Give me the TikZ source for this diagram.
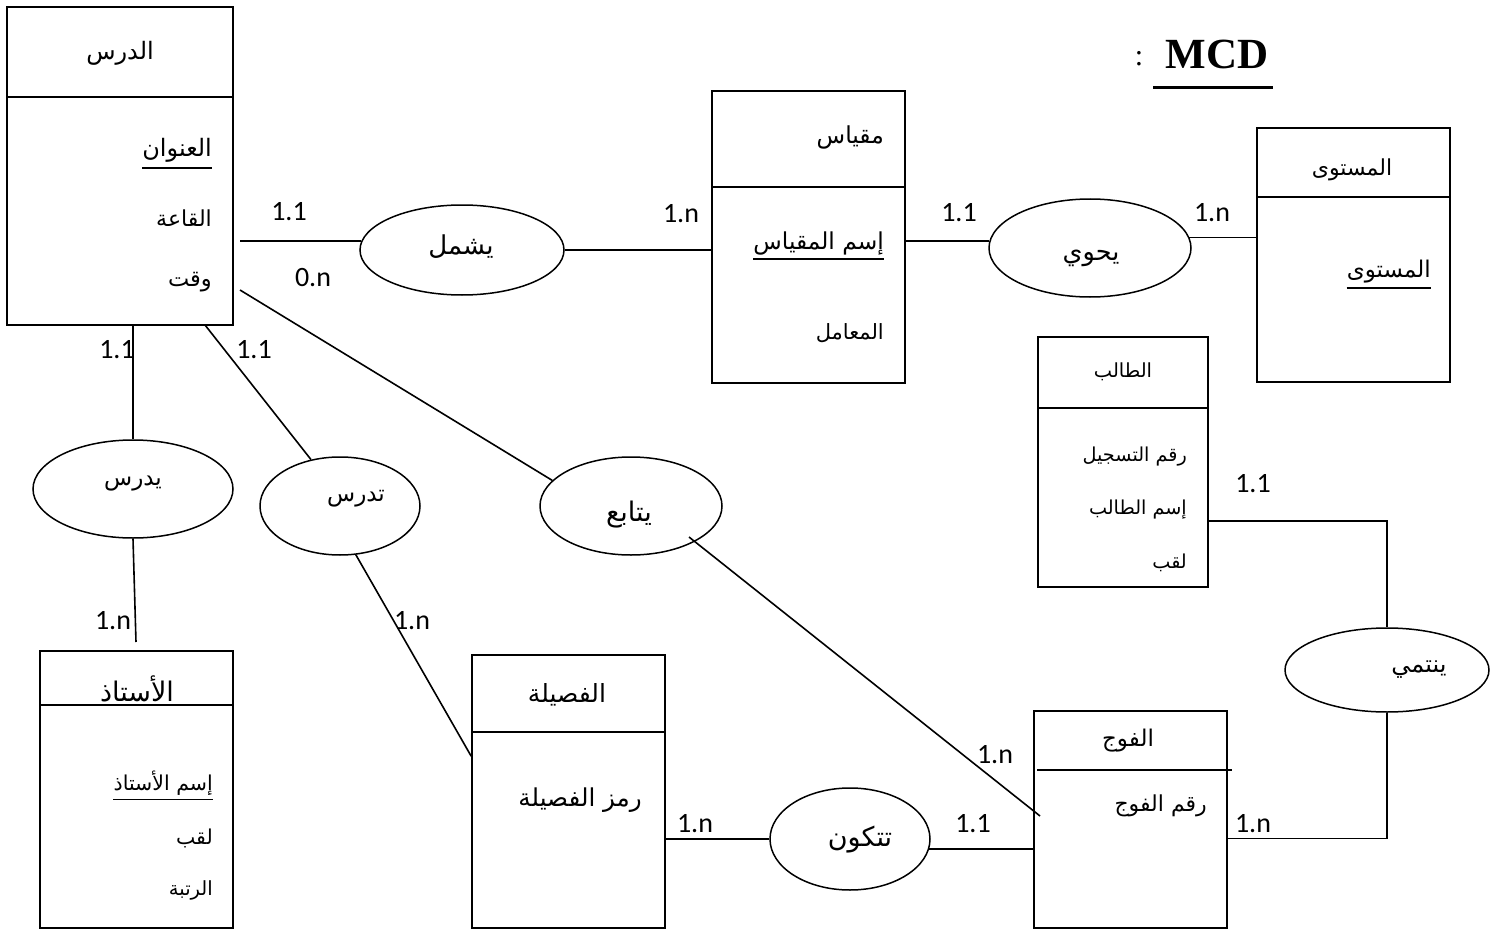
\documentclass[tikz,border=0pt]{standalone}
\usepackage{fontspec}
\setmainfont{Liberation Serif}
\newfontfamily\arabicfont[Script=Arabic]{DejaVu Sans}
\newfontfamily\numfont{Carlito}
\TeXXeTstate=1
\usetikzlibrary{shapes.geometric}
\newcommand\artx[1]{\beginR #1\endR}

\tikzset{
  entity/.style={draw, line width=1.7pt, rectangle, inner sep=0pt},
  relation/.style={draw, line width=1.5pt, ellipse, inner sep=0pt},
  link/.style={line width=1.6pt},
  divider/.style={line width=1.7pt},
  keyline/.style={line width=1.8pt},
  ar/.style={inner sep=0pt, font=\arabicfont\fontsize{#1}{#1}\selectfont},
  card/.style={inner sep=0pt, font=\numfont\fontsize{28}{28}\selectfont},
}

\begin{document}
\begin{tikzpicture}[x=1pt, y=-1pt]
\fill[white] (0,0) rectangle (1492,931);
\useasboundingbox (0,0) rectangle (1492,931);

% ---------- entities ----------
% Lesson
\node[entity, minimum width=226pt, minimum height=318pt] (dars) at (120,166) {};
\draw[divider] ([yshift=-91pt]dars.north west) -- ([yshift=-91pt]dars.north east);
\node[ar=24] (dars-t) at (120,53) {\artx{الدرس}};
\node[ar=24, anchor=east] (dars-a1) at (212,150) {\artx{العنوان}};
\node[ar=22, anchor=east] (dars-a2) at (212,218) {\artx{القاعة}};
\node[ar=22.5, anchor=east] (dars-a3) at (212,282) {\artx{وقت}};
\draw[keyline] ([yshift=-6pt]dars-a1.south west) -- ([yshift=-6pt]dars-a1.south east);

% Subject
\node[entity, minimum width=193pt, minimum height=292pt] (miqyas) at (808.5,237) {};
\draw[divider] ([yshift=-97pt]miqyas.north west) -- ([yshift=-97pt]miqyas.north east);
\node[ar=23.4, anchor=east] (miqyas-t) at (884,137) {\artx{مقياس}};
\node[ar=23.3, anchor=east] (miqyas-a1) at (884,243) {\artx{إسم المقياس}};
\node[ar=21, anchor=east] (miqyas-a2) at (884,333) {\artx{المعامل}};
\draw[keyline] ([yshift=-4pt]miqyas-a1.south west) -- ([yshift=-4pt]miqyas-a1.south east);

% Level
\node[entity, minimum width=193pt, minimum height=254pt] (mustawa) at (1353.5,255) {};
\draw[divider] ([yshift=-70pt]mustawa.north west) -- ([yshift=-70pt]mustawa.north east);
\node[ar=22] (mustawa-t) at (1352,170) {\artx{المستوى}};
\node[ar=23, anchor=east] (mustawa-a1) at (1431,272) {\artx{المستوى}};
\draw[keyline] ([yshift=-4pt]mustawa-a1.south west) -- ([yshift=-4pt]mustawa-a1.south east);

% Student
\node[entity, minimum width=170pt, minimum height=250pt] (talib) at (1123,462) {};
\draw[divider] ([yshift=-72pt]talib.north west) -- ([yshift=-72pt]talib.north east);
\node[ar=19.4] (talib-t) at (1123,372) {\artx{الطالب}};
\node[ar=19.2, anchor=east] (talib-a1) at (1187,457) {\artx{رقم التسجيل}};
\node[ar=19.2, anchor=east] (talib-a2) at (1187,510) {\artx{إسم الطالب}};
\node[ar=19.2, anchor=east] (talib-a3) at (1187,563) {\artx{لقب}};

% Teacher
\node[entity, minimum width=193pt, minimum height=277pt] (ustadh) at (136.5,789.5) {};
\draw[divider] ([yshift=-55pt]ustadh.north west) -- ([yshift=-55pt]ustadh.north east);
\node[ar=27] (ustadh-t) at (137,689) {\artx{الأستاذ}};
\node[ar=20.5, anchor=east] (ustadh-a1) at (213,783) {\artx{إسم الأستاذ}};
\node[ar=20.5, anchor=east] (ustadh-a2) at (213,838) {\artx{لقب}};
\node[ar=19.5, anchor=east] (ustadh-a3) at (213,890) {\artx{الرتبة}};
\draw[keyline] ([yshift=-4pt]ustadh-a1.south west) -- ([yshift=-4pt]ustadh-a1.south east);

% Section
\node[entity, minimum width=193pt, minimum height=273pt] (fasila) at (568.5,791.5) {};
\draw[divider] ([yshift=-78pt]fasila.north west) -- ([yshift=-78pt]fasila.north east);
\node[ar=25] (fasila-t) at (567,695) {\artx{الفصيلة}};
\node[ar=24.6, anchor=east] (fasila-a1) at (642,800) {\artx{رمز الفصيلة}};

% Group
\node[entity, minimum width=193pt, minimum height=217pt] (fawj) at (1130.5,819.5) {};
\draw[divider] ([xshift=4pt,yshift=-60pt]fawj.north west) -- ([xshift=4pt,yshift=-60pt]fawj.north east);
\node[ar=23] (fawj-t) at (1128,741) {\artx{الفوج}};
\node[ar=22, anchor=east] (fawj-a1) at (1207,806) {\artx{رقم الفوج}};

% ---------- relations ----------
\node[relation, minimum width=204pt, minimum height=90pt] (yashmal) at (462,250) {};
\node[ar=26] (yashmal-t) at (461,247) {\artx{يشمل}};
\node[relation, minimum width=202pt, minimum height=98pt] (yahwi) at (1090,248) {};
\node[ar=25.5] (yahwi-t) at (1091,258) {\artx{يحوي}};
\node[relation, minimum width=200pt, minimum height=98pt] (yadrus) at (133,489) {};
\node[ar=23] (yadrus-t) at (133,484) {\artx{يدرس}};
\node[relation, minimum width=160pt, minimum height=98pt] (tadrus) at (340,506) {};
\node[ar=23] (tadrus-t) at (356,499) {\artx{تدرس}};
\node[relation, minimum width=182pt, minimum height=98pt] (yatabaa) at (631,506) {};
\node[ar=27] (yatabaa-t) at (629,515) {\artx{يتابع}};
\node[relation, minimum width=160pt, minimum height=102pt] (takawwun) at (850,839) {};
\node[ar=27] (takawwun-t) at (860,840) {\artx{تتكون}};
\node[relation, minimum width=204pt, minimum height=84pt] (yantami) at (1387,670) {};
\node[ar=24] (yantami-t) at (1419,670) {\artx{ينتمي}};

% ---------- connectors ----------
\coordinate (dars-p1) at (240,241);
\draw[link] (dars-p1) -- (dars-p1 -| yashmal.175);
\draw[link] (yashmal.east) -- (yashmal.east -| miqyas.west);
\draw[link] (yahwi.176) -- (yahwi.176 -| miqyas.east);
\draw[link] (yahwi.6) -- (yahwi.6 -| mustawa.west);
\coordinate (dars-p2) at (240,290);
\draw[link] (dars-p2) -- (yatabaa.162);
\coordinate (yatabaa-p) at (689,537);
\coordinate (fawj-p) at (1040,816);
\draw[link] (yatabaa-p) -- (fawj-p);
\draw[link] (yadrus.north |- dars.south) -- (yadrus.north);
\coordinate (ustadh-p) at (136,642);
\draw[link] (yadrus.south) -- (ustadh-p);
\coordinate (dars-p3) at (205,325);
\draw[link] (dars-p3) -- (tadrus.122);
\coordinate (fasila-p) at ([yshift=-102pt]fasila.north west);
\draw[link] (tadrus.288) -- (fasila-p);
\draw[link] (takawwun.west) -- (takawwun.west -| fasila.east);
\draw[link] (takawwun.353) -- (takawwun.353 -| fawj.west);
\draw[link] ([yshift=-59pt]talib.east) -| (yantami.north);
\draw[link] (yantami.south) |- ([yshift=-19pt]fawj.east);

% ---------- cardinalities ----------
\node[card] (k1) at (289,212) {1.1};
\node[card] (k2) at (313,278) {0.n};
\node[card] (k3) at (681,214) {1.n};
\node[card] (k4) at (959,213) {1.1};
\node[card] (k5) at (1212,213) {1.n};
\node[card] (k6) at (117,350) {1.1};
\node[card] (k7) at (254,350) {1.1};
\node[card] (k8) at (113,621) {1.n};
\node[card] (k9) at (412,621) {1.n};
\node[card] (k10) at (1253,484) {1.1};
\node[card] (k11) at (995,755) {1.n};
\node[card] (k12) at (695,824) {1.n};
\node[card] (k13) at (973,824) {1.1};
\node[card] (k14) at (1253,824) {1.n};

% ---------- heading ----------
\node[inner sep=0pt, font=\bfseries\fontsize{43}{43}\selectfont] (mcd) at (1217,54) {MCD};
\node[inner sep=0pt, font=\fontsize{30}{30}\selectfont] (colon) at (1139,59) {:};
\draw[line width=2.8pt] ([xshift=-12pt,yshift=-19pt]mcd.south west) -- ([xshift=4pt,yshift=-19pt]mcd.south east);
\end{tikzpicture}
\end{document}
